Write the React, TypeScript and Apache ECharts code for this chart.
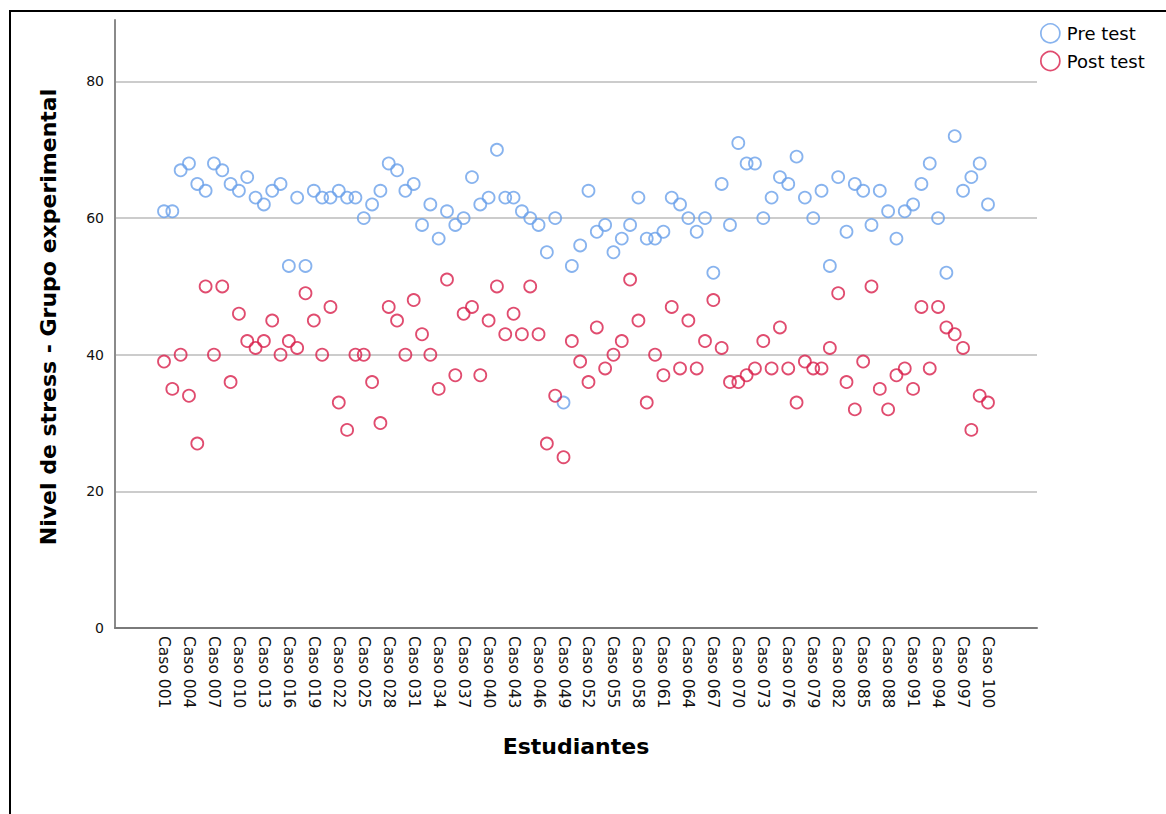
import React, { useEffect, useRef } from "react";
import * as echarts from "echarts";

const categories: string[] = Array.from({ length: 100 }, (_, i) => "Caso " + String(i + 1).padStart(3, "0"));

const preTest: number[] = [
  61, 61, 67, 68, 65, 64, 68, 67, 65, 64,
  66, 63, 62, 64, 65, 53, 63, 53, 64, 63,
  63, 64, 63, 63, 60, 62, 64, 68, 67, 64,
  65, 59, 62, 57, 61, 59, 60, 66, 62, 63,
  70, 63, 63, 61, 60, 59, 55, 60, 33, 53,
  56, 64, 58, 59, 55, 57, 59, 63, 57, 57,
  58, 63, 62, 60, 58, 60, 52, 65, 59, 71,
  68, 68, 60, 63, 66, 65, 69, 63, 60, 64,
  53, 66, 58, 65, 64, 59, 64, 61, 57, 61,
  62, 65, 68, 60, 52, 72, 64, 66, 68, 62,
];

const postTest: number[] = [
  39, 35, 40, 34, 27, 50, 40, 50, 36, 46,
  42, 41, 42, 45, 40, 42, 41, 49, 45, 40,
  47, 33, 29, 40, 40, 36, 30, 47, 45, 40,
  48, 43, 40, 35, 51, 37, 46, 47, 37, 45,
  50, 43, 46, 43, 50, 43, 27, 34, 25, 42,
  39, 36, 44, 38, 40, 42, 51, 45, 33, 40,
  37, 47, 38, 45, 38, 42, 48, 41, 36, 36,
  37, 38, 42, 38, 44, 38, 33, 39, 38, 38,
  41, 49, 36, 32, 39, 50, 35, 32, 37, 38,
  35, 47, 38, 47, 44, 43, 41, 29, 34, 33,
];

const yTicks: number[] = [0, 20, 40, 60, 80];
const yMax = 89;

const BLUE = "#6aa0ea";
const RED = "#d81f4b";
const FONT = "DejaVu Sans";

export default function App() {
  const ref = useRef<HTMLDivElement>(null);
  useEffect(() => {
    if (!ref.current) return;
    const chart = echarts.init(ref.current, undefined, { renderer: "svg" });
    chart.setOption({
      animation: false,
      backgroundColor: "#ffffff",
      textStyle: { fontFamily: FONT },
      graphic: [
        { type: "line", shape: { x1: 9, y1: 11, x2: 1166, y2: 11 }, style: { stroke: "#000", lineWidth: 2 } },
        { type: "line", shape: { x1: 10, y1: 10, x2: 10, y2: 814 }, style: { stroke: "#000", lineWidth: 2 } },
      ],
      legend: {
        orient: "vertical",
        left: 1035,
        top: 18,
        itemWidth: 19,
        itemHeight: 19,
        itemGap: 7,
        icon: "circle",
        textStyle: { fontFamily: FONT, fontSize: 18, color: "#000", padding: [0, 0, 0, 2] },
        data: [
          { name: "Pre test", itemStyle: { color: "transparent", borderColor: BLUE, borderWidth: 1.7 } },
          { name: "Post test", itemStyle: { color: "transparent", borderColor: RED, borderWidth: 1.7 } },
        ],
      },
      grid: [
        { left: 164, right: 178, top: 20, bottom: 186 },
        { left: 115, right: 129, top: 20, bottom: 186 },
      ],
      xAxis: [
        {
          type: "category",
          gridIndex: 0,
          data: categories,
          boundaryGap: false,
          axisLine: { show: false },
          axisTick: { show: false },
          axisLabel: {
            interval: 2,
            rotate: -90,
            fontSize: 15.5,
            margin: 8,
            color: "#111",
            fontFamily: FONT,
          },
          splitLine: { show: false },
          name: "Estudiantes",
          nameLocation: "middle",
          nameGap: 107,
          nameTextStyle: { fontFamily: FONT, fontSize: 22, fontWeight: "bold", color: "#000" },
        },
        {
          type: "value",
          gridIndex: 1,
          min: 0,
          max: 1,
          axisLine: { show: true, onZero: false, lineStyle: { color: "#7a7a7a", width: 2 } },
          axisTick: { show: false },
          axisLabel: { show: false },
          splitLine: { show: false },
        },
      ],
      yAxis: [
        {
          type: "value",
          gridIndex: 0,
          min: 0,
          max: yMax,
          show: false,
        },
        {
          type: "value",
          gridIndex: 1,
          min: 0,
          max: yMax,
          interval: 20,
          axisLine: { show: true, lineStyle: { color: "#8a8a8a", width: 2 } },
          axisTick: { show: false },
          axisLabel: {
            showMaxLabel: false,
            fontSize: 14,
            color: "#111",
            margin: 11,
            fontFamily: FONT,
            formatter: (v: number) => (yTicks.includes(v) ? String(v) : ""),
          },
          splitLine: {
            show: true,
            showMinLine: false,
            showMaxLine: false,
            lineStyle: { color: "#cccccc", width: 2 },
          },
          name: "Nivel de stress - Grupo experimental",
          nameLocation: "middle",
          nameGap: 56,
          nameTextStyle: {
            fontFamily: FONT,
            fontSize: 22,
            fontWeight: "bold",
            color: "#000",
            padding: [0, 0, 0, 14],
          },
        },
      ],
      series: [
        {
          name: "Pre test",
          type: "scatter",
          xAxisIndex: 0,
          yAxisIndex: 0,
          data: preTest,
          symbol: "circle",
          symbolSize: 12,
          itemStyle: { color: "transparent", borderColor: BLUE, borderWidth: 1.8 },
          z: 3,
        },
        {
          name: "Post test",
          type: "scatter",
          xAxisIndex: 0,
          yAxisIndex: 0,
          data: postTest,
          symbol: "circle",
          symbolSize: 12,
          itemStyle: { color: "transparent", borderColor: RED, borderWidth: 1.8 },
          z: 3,
        },
      ],
    });
    return () => chart.dispose();
  }, []);
  return (
    <div
      ref={ref}
      style={{ position: "absolute", left: 0, top: 0, width: 1166, height: 814, background: "#fff" }}
    />
  );
}
